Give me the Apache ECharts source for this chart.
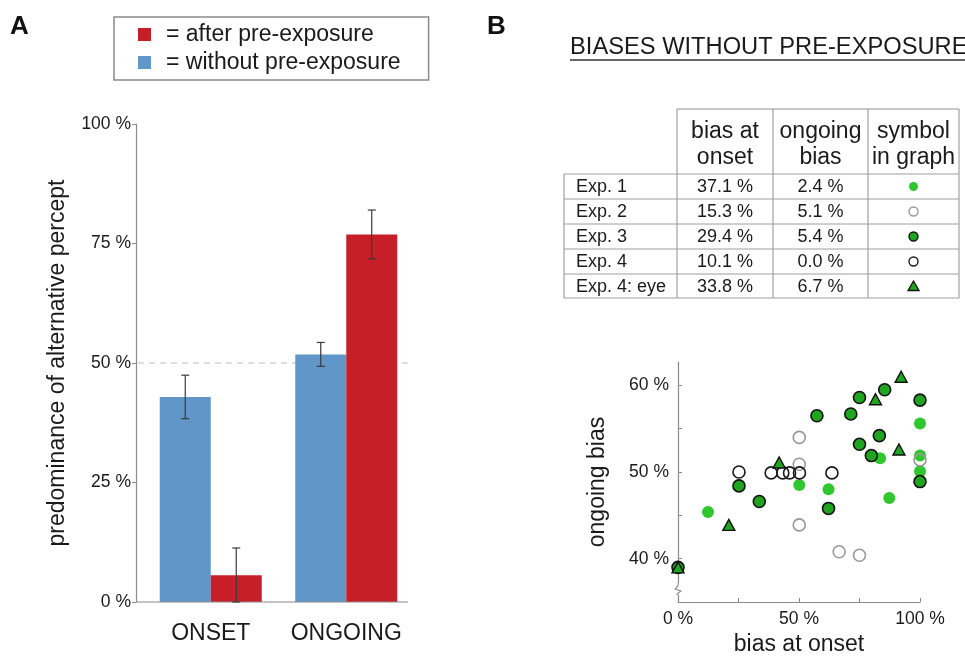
<!DOCTYPE html>
<html>
<head>
<meta charset="utf-8">
<script src="https://cdn.jsdelivr.net/npm/echarts@6/dist/echarts.min.js"></script>
<style>
html,body{margin:0;padding:0;background:#fff;}
#chart{width:965px;height:657px;}
</style>
</head>
<body>
<div id="chart"></div>
<script>
// ---------- Panel A data ----------
const categories = ['ONSET', 'ONGOING'];
const withoutVals = [42.9, 51.8];
const withoutErr = [4.55, 2.5];
const afterVals = [5.6, 76.9];
const afterErr = [5.7, 5.1];
const barTicks = [0, 25, 50, 75, 100];

// ---------- Panel B table ----------
const tableCols = ['bias at\nonset', 'ongoing\nbias', 'symbol\nin graph'];
const tableRows = ['Exp. 1', 'Exp. 2', 'Exp. 3', 'Exp. 4', 'Exp. 4: eye'];
const onsetBias = ['37.1 %', '15.3 %', '29.4 %', '10.1 %', '33.8 %'];
const ongoingBias = ['2.4 %', '5.1 %', '5.4 %', '0.0 %', '6.7 %'];

// ---------- Panel B scatter (bias at onset %, ongoing bias %) ----------
const exp1 = [[12.4,45.4],[50.1,48.5],[62.2,48.0],[83.5,51.6],[87.3,47.0],[100,55.6],[100,51.9],[100,50.1]];
const exp2 = [[50.1,54.0],[50.1,50.9],[50.1,43.9],[66.6,40.8],[75.0,40.4],[100,51.4]];
const exp3 = [[0,39.0],[25.2,48.4],[33.6,46.6],[57.4,56.5],[62.2,45.8],[71.4,56.7],[75.0,58.6],[75.0,53.2],[79.9,51.9],[83.2,54.2],[85.4,59.5],[100,58.3],[100,48.9]];
const exp4 = [[25.2,50.0],[38.5,49.9],[43.3,49.9],[46.1,49.9],[50.2,49.9],[63.6,49.9]];
const exp4eye = [[0,39.0],[21.0,43.9],[41.8,51.1],[81.6,58.4],[92.2,61.0],[91.3,52.6]];
const scatterYTicks = [40, 45, 50, 55, 60];
const scatterYLabels = [40, 50, 60];
const scatterXTicks = [0, 25, 50, 75, 100];
const scatterXLabels = [0, 50, 100];

const FONT = 'Liberation Sans, Arial, Helvetica, sans-serif';
const TXT = '#1a1a1a';
const BLUE = '#6196c9';
const RED = '#c61f27';
const LGREEN = '#2ec82e';
const DGREEN = '#1fa51f';
const AXIS = '#8a8a8a';

const chart = echarts.init(document.getElementById('chart'), null, {renderer: 'canvas'});

function errorSeries(vals, errs, side, name) {
  return {
    type: 'custom',
    name: name,
    xAxisIndex: 0, yAxisIndex: 0,
    z: 5,
    silent: true,
    data: vals.map((v, i) => [i, Math.max(0, v - errs[i]), v + errs[i]]),
    renderItem: function (params, api) {
      const c = api.coord([api.value(0), api.value(2)]);
      const lo = api.coord([api.value(0), api.value(1)]);
      const x = c[0] + side * 25.5;
      const cap = 4;
      const st = {stroke: '#3a3a3a', lineWidth: 1.2};
      return {
        type: 'group',
        children: [
          {type: 'line', shape: {x1: x, y1: c[1], x2: x, y2: lo[1]}, style: st},
          {type: 'line', shape: {x1: x - cap, y1: c[1], x2: x + cap, y2: c[1]}, style: st},
          {type: 'line', shape: {x1: x - cap, y1: lo[1], x2: x + cap, y2: lo[1]}, style: st}
        ]
      };
    }
  };
}

const option = {
  backgroundColor: '#fff',
  animation: false,
  textStyle: {fontFamily: FONT, color: TXT},
  legend: {
    data: ['after pre-exposure', 'without pre-exposure'],
    orient: 'vertical',
    left: 114, top: 17,
    icon: 'rect',
    itemWidth: 13, itemHeight: 13,
    itemGap: 5,
    padding: [6, 28, 6, 24],
    borderColor: '#8a8a8a', borderWidth: 1.5,
    formatter: '= {name}',
    textStyle: {fontFamily: FONT, fontSize: 23, color: TXT, padding: [0, 0, 0, 10]},
    selectedMode: false
  },
  grid: [
    {left: 143, width: 271, top: 124, height: 478},
    {left: 678, right: 45, top: 362, bottom: 55}
  ],
  xAxis: [
    {
      gridIndex: 0, type: 'category', data: categories,
      axisLine: {show: false}, axisTick: {show: false},
      axisLabel: {interval: 0, fontSize: 23, color: TXT, margin: 20, fontFamily: FONT}
    },
    {
      gridIndex: 1, type: 'value', min: 0, max: 100,
      axisLine: {show: true, lineStyle: {color: AXIS, width: 1.2}},
      axisTick: {show: true, inside: true, length: 4, customValues: scatterXTicks, lineStyle: {color: AXIS}},
      axisLabel: {customValues: scatterXLabels, formatter: '{value} %', fontSize: 17.5, color: TXT, margin: 8, fontFamily: FONT},
      splitLine: {show: false},
      name: 'bias at onset', nameLocation: 'middle', nameGap: 31,
      nameTextStyle: {fontSize: 23, color: TXT, fontFamily: FONT}
    }
  ],
  yAxis: [
    {
      gridIndex: 0, type: 'value', min: 0, max: 100, interval: 25,
      offset: 7,
      axisLine: {show: true, lineStyle: {color: AXIS, width: 1.2}},
      axisTick: {show: true, length: 4, lineStyle: {color: AXIS}},
      axisLabel: {formatter: '{value} %', fontSize: 17.5, color: TXT, margin: 5, fontFamily: FONT},
      splitLine: {show: false},
      name: 'predominance of alternative percept', nameLocation: 'middle', nameRotate: 90, nameGap: 67,
      nameTextStyle: {fontSize: 23, color: TXT, fontFamily: FONT}
    },
    {
      gridIndex: 1, type: 'value', min: 35, max: 62.7,
      axisLine: {show: true, lineStyle: {color: AXIS, width: 1.2}},
      axisTick: {show: true, inside: true, length: 4, customValues: scatterYTicks, lineStyle: {color: AXIS}},
      axisLabel: {customValues: scatterYLabels, formatter: '{value} %', fontSize: 17.5, color: TXT, margin: 9, fontFamily: FONT},
      splitLine: {show: false},
      name: 'ongoing bias', nameLocation: 'middle', nameRotate: 90, nameGap: 69,
      nameTextStyle: {fontSize: 23, color: TXT, fontFamily: FONT}
    }
  ],
  series: [
    {
      name: 'without pre-exposure', type: 'bar', xAxisIndex: 0, yAxisIndex: 0,
      data: withoutVals, barWidth: 51, barGap: '0%',
      itemStyle: {color: BLUE}
    },
    {
      name: 'after pre-exposure', type: 'bar', xAxisIndex: 0, yAxisIndex: 0,
      data: afterVals, barWidth: 51, barGap: '0%',
      itemStyle: {color: RED}
    },
    errorSeries(withoutVals, withoutErr, -1, 'err-without'),
    errorSeries(afterVals, afterErr, 1, 'err-after'),
    {
      name: 'Exp. 1', type: 'scatter', xAxisIndex: 1, yAxisIndex: 1, data: exp1,
      symbol: 'circle', symbolSize: 12,
      itemStyle: {color: LGREEN, borderWidth: 0, opacity: 1}
    },
    {
      name: 'Exp. 2', type: 'scatter', xAxisIndex: 1, yAxisIndex: 1, data: exp2,
      symbol: 'circle', symbolSize: 12,
      itemStyle: {color: 'rgba(255,255,255,0)', borderColor: '#999', borderWidth: 1.6, opacity: 1}
    },
    {
      name: 'Exp. 3', type: 'scatter', xAxisIndex: 1, yAxisIndex: 1, data: exp3,
      symbol: 'circle', symbolSize: 12,
      itemStyle: {color: DGREEN, borderColor: '#111', borderWidth: 1.6, opacity: 1}
    },
    {
      name: 'Exp. 4', type: 'scatter', xAxisIndex: 1, yAxisIndex: 1, data: exp4,
      symbol: 'circle', symbolSize: 12,
      itemStyle: {color: 'rgba(255,255,255,0)', borderColor: '#1a1a1a', borderWidth: 1.6, opacity: 1}
    },
    {
      name: 'Exp. 4: eye', type: 'scatter', xAxisIndex: 1, yAxisIndex: 1, data: exp4eye,
      symbol: 'triangle', symbolSize: [12, 11],
      itemStyle: {color: DGREEN, borderColor: '#111', borderWidth: 1.4, opacity: 1}
    }
  ]
};

chart.setOption(option);

// ---------- decorations (axis lines, reference line, titles, table) ----------
const g = [];
// Panel letters
g.push({type: 'text', left: 10, top: 14, style: {text: 'A', font: 'bold 26px ' + FONT, fill: '#111'}});
g.push({type: 'text', left: 487, top: 14, style: {text: 'B', font: 'bold 26px ' + FONT, fill: '#111'}});

// Panel A: x axis line and 50 % dashed reference
const y0 = chart.convertToPixel({yAxisIndex: 0}, 0);
const y50 = chart.convertToPixel({yAxisIndex: 0}, 50);
const xAxisLeft = 136, xAxisRight = 408;
g.push({type: 'line', z: 3, shape: {x1: xAxisLeft, y1: y0, x2: xAxisRight, y2: y0}, style: {stroke: AXIS, lineWidth: 1.2}});
g.push({type: 'line', z: 0, shape: {x1: xAxisLeft + 2, y1: y50, x2: 410, y2: y50}, style: {stroke: '#bdbdbd', lineWidth: 1, lineDash: [6, 5]}});

// Panel B title
g.push({type: 'text', left: 570, top: 35, style: {text: 'BIASES WITHOUT PRE-EXPOSURE', font: '23.7px ' + FONT, fill: TXT}});
g.push({type: 'line', shape: {x1: 570, y1: 60, x2: 965, y2: 60}, style: {stroke: '#333', lineWidth: 1.5}});

// Table
const colX = [677, 773, 868, 959];
const headTop = 109, headBottom = 174;
const rowY = [174, 199, 224, 249, 274, 298];
const tableLeft = 564;
const lineStyle = {stroke: '#8e8e8e', lineWidth: 1};
g.push({type: 'line', shape: {x1: colX[0], y1: headTop, x2: colX[3], y2: headTop}, style: lineStyle});
colX.forEach(x => g.push({type: 'line', shape: {x1: x, y1: headTop, x2: x, y2: rowY[5]}, style: lineStyle}));
g.push({type: 'line', shape: {x1: tableLeft, y1: headBottom, x2: tableLeft, y2: rowY[5]}, style: lineStyle});
rowY.forEach(y => g.push({type: 'line', shape: {x1: tableLeft, y1: y, x2: colX[3], y2: y}, style: {stroke: '#9e9e9e', lineWidth: 1}}));
tableCols.forEach((t, i) => {
  g.push({type: 'text', x: (colX[i] + colX[i + 1]) / 2, y: 145, style: {text: t, font: '23px ' + FONT, fill: TXT, align: 'center', verticalAlign: 'middle', lineHeight: 26}});
});
const symStyles = [
  {fill: LGREEN, stroke: null, lineWidth: 0},
  {fill: '#fff', stroke: '#9a9a9a', lineWidth: 1.4},
  {fill: DGREEN, stroke: '#111', lineWidth: 1.4},
  {fill: '#fff', stroke: '#1a1a1a', lineWidth: 1.4}
];
tableRows.forEach((r, i) => {
  const cy = (rowY[i] + rowY[i + 1]) / 2 + 1;
  g.push({type: 'text', x: 576, y: cy, style: {text: r, font: '18px ' + FONT, fill: TXT, align: 'left', verticalAlign: 'middle'}});
  g.push({type: 'text', x: (colX[0] + colX[1]) / 2, y: cy, style: {text: onsetBias[i], font: '18px ' + FONT, fill: TXT, align: 'center', verticalAlign: 'middle'}});
  g.push({type: 'text', x: (colX[1] + colX[2]) / 2, y: cy, style: {text: ongoingBias[i], font: '18px ' + FONT, fill: TXT, align: 'center', verticalAlign: 'middle'}});
  const sx = (colX[2] + colX[3]) / 2;
  if (i < 4) {
    g.push({type: 'circle', shape: {cx: sx, cy: cy - 1, r: 4.5}, style: symStyles[i]});
  } else {
    g.push({type: 'polygon', shape: {points: [[sx, cy - 6], [sx + 5.5, cy + 3.5], [sx - 5.5, cy + 3.5]]}, style: {fill: DGREEN, stroke: '#111', lineWidth: 1.3}});
  }
});

// Scatter y-axis break mark
const bx = chart.convertToPixel({xAxisIndex: 1}, 0);
g.push({type: 'rect', z: 10, shape: {x: bx - 4, y: 583, width: 8, height: 12}, style: {fill: '#fff'}});
g.push({type: 'polyline', z: 11, shape: {points: [[bx, 583], [bx, 586], [bx - 3, 589], [bx + 3, 591], [bx - 1, 594], [bx, 595]]}, style: {stroke: AXIS, lineWidth: 1.1, fill: null}});

chart.setOption({graphic: g});
</script>
</body>
</html>
